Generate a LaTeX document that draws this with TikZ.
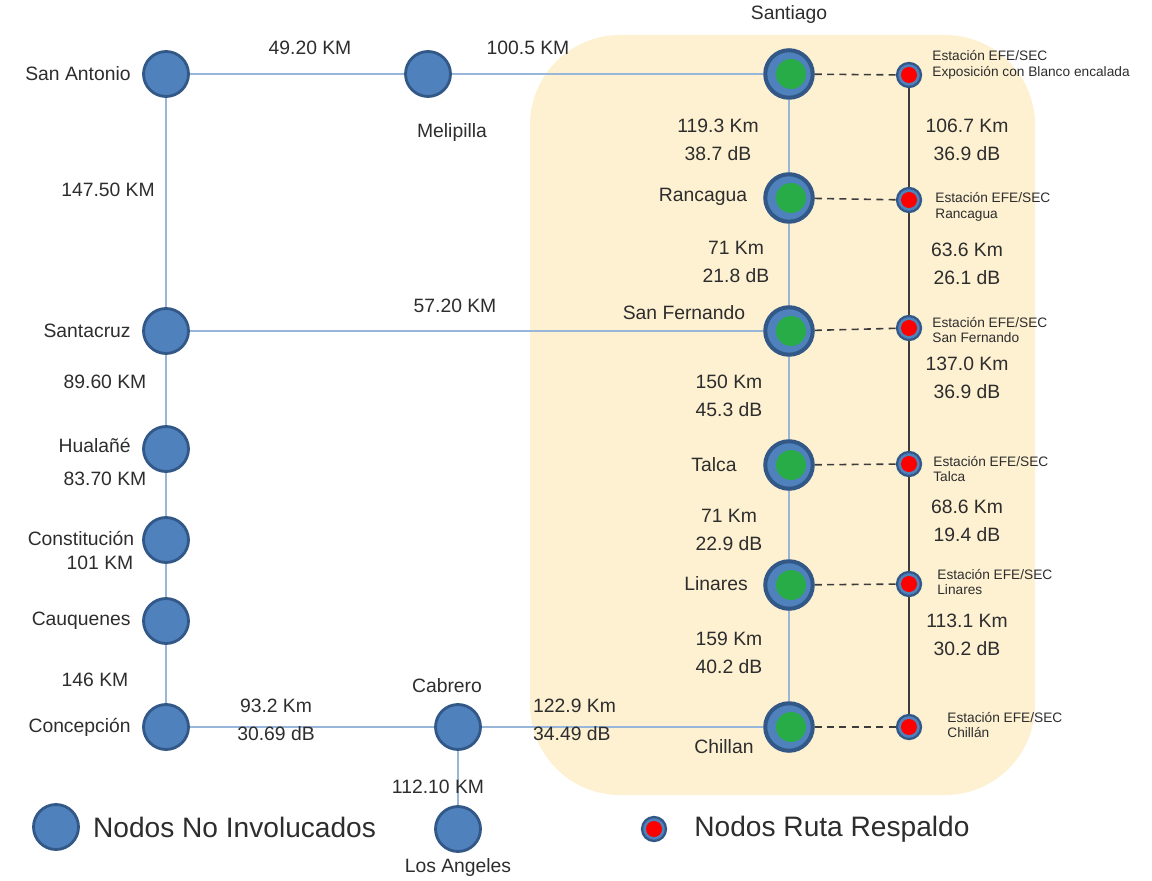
\documentclass[tikz,border=0pt]{standalone}
\usepackage{fontspec}
\setmainfont{Liberation Sans}
\usetikzlibrary{positioning}

\definecolor{lineaazul}{RGB}{152,182,218}
\definecolor{nodoazul}{RGB}{79,129,189}
\definecolor{bordeazul}{RGB}{50,88,135}
\definecolor{verderuta}{RGB}{40,172,72}
\definecolor{fondoruta}{RGB}{254,241,210}
\definecolor{textogris}{RGB}{45,45,45}
\definecolor{grisoscuro}{RGB}{60,60,60}

\begin{document}
\begin{tikzpicture}[
    x=0.02cm, y=-0.02cm,
    node distance=3pt,
    nodo/.style={circle, draw=bordeazul, line width=1.6pt, fill=nodoazul, minimum size=0.9cm, inner sep=0pt},
    nodoruta/.style={nodo, line width=2.3pt, minimum size=0.95cm,
        path picture={\fill[verderuta] ([xshift=0.4mm]path picture bounding box.center) circle (0.3cm);}},
    nodorespaldo/.style={nodo, line width=1.3pt, minimum size=0.48cm,
        path picture={\fill[red] (path picture bounding box.center) circle (0.16cm);}},
    ciudad/.style={font=\fontsize{11}{13}\selectfont, text=textogris},
    dist/.style={font=\fontsize{11}{16}\selectfont, text=textogris, align=center},
    estacion/.style={font=\fontsize{7.8}{9}\selectfont, text=textogris, align=left, anchor=west, inner sep=0pt},
    leyenda/.style={font=\fontsize{16}{18}\selectfont, text=textogris, anchor=west},
    tramo/.style={lineaazul, line width=1.6pt},
    respaldo/.style={grisoscuro, line width=1.2pt},
    enlace/.style={grisoscuro, line width=0.9pt, dash pattern=on 4pt off 3pt}]

    \useasboundingbox (0,0) rectangle (1152,881);

    % zona de la ruta
    \fill[fondoruta, rounded corners=1.8cm] (530,35) rectangle (1035,795);

    % nodos no involucrados
    \node[nodo] (sanantonio) at (166,74) {};
    \node[nodo] (melipilla) at (428,74) {};
    \node[nodo] (santacruz) at (166,331) {};
    \node[nodo] (hualane) at (166,449) {};
    \node[nodo] (constitucion) at (166,540) {};
    \node[nodo] (cauquenes) at (166,621) {};
    \node[nodo] (concepcion) at (166,727) {};
    \node[nodo] (cabrero) at (458,727) {};
    \node[nodo] (losangeles) at (458,829) {};

    % nodos de la ruta
    \node[nodoruta] (santiago) at (789,74) {};
    \node[nodoruta] (rancagua) at (789,198) {};
    \node[nodoruta] (sanfernando) at (789,331) {};
    \node[nodoruta] (talca) at (789,465) {};
    \node[nodoruta] (linares) at (789,585) {};
    \node[nodoruta] (chillan) at (789,727) {};

    % estaciones de respaldo
    \node[nodorespaldo] (efesantiago) at (909,75) {};
    \node[nodorespaldo] (eferancagua) at (909,200) {};
    \node[nodorespaldo] (efesanfernando) at (909,328) {};
    \node[nodorespaldo] (efetalca) at (909,464) {};
    \node[nodorespaldo] (efelinares) at (909,584) {};
    \node[nodorespaldo] (efechillan) at (909,727) {};

    % tramos
    \draw[tramo] (sanantonio) -- (melipilla);
    \draw[tramo] (melipilla) -- (santiago);
    \draw[tramo] (sanantonio) -- (santacruz);
    \draw[tramo] (santacruz) -- (hualane);
    \draw[tramo] (hualane) -- (constitucion);
    \draw[tramo] (constitucion) -- (cauquenes);
    \draw[tramo] (cauquenes) -- (concepcion);
    \draw[tramo] (santacruz) -- (sanfernando);
    \draw[tramo] (concepcion) -- (cabrero);
    \draw[tramo] (cabrero) -- (chillan);
    \draw[tramo] (cabrero) -- (losangeles);
    \draw[tramo] (santiago) -- (rancagua);
    \draw[tramo] (rancagua) -- (sanfernando);
    \draw[tramo] (sanfernando) -- (talca);
    \draw[tramo] (talca) -- (linares);
    \draw[tramo] (linares) -- (chillan);

    \draw[respaldo] (efesantiago) -- (eferancagua);
    \draw[respaldo] (eferancagua) -- (efesanfernando);
    \draw[respaldo] (efesanfernando) -- (efetalca);
    \draw[respaldo] (efetalca) -- (efelinares);
    \draw[respaldo] (efelinares) -- (efechillan);

    \draw[enlace] (santiago) -- (efesantiago);
    \draw[enlace] (rancagua) -- (eferancagua);
    \draw[enlace] (sanfernando) -- (efesanfernando);
    \draw[enlace] (talca) -- (efetalca);
    \draw[enlace] (linares) -- (efelinares);
    \draw[enlace] (chillan) -- (efechillan);

    % nombres
    \node[ciudad, left=3pt of sanantonio] {San Antonio};
    \node[ciudad, left=3pt of santacruz] {Santacruz};
    \node[ciudad, left=3pt of hualane, yshift=2pt] {Hualañé};
    \node[ciudad, left=1pt of constitucion, yshift=1pt] {Constitución};
    \node[ciudad, left=3pt of cauquenes] {Cauquenes};
    \node[ciudad, left=3pt of concepcion] {Concepción};
    \node[ciudad] at (452,133) {Melipilla};
    \node[ciudad] at (789,15) {Santiago};
    \node[ciudad] at (703,197) {Rancagua};
    \node[ciudad] at (684,313) {San Fernando};
    \node[ciudad] at (714,465) {Talca};
    \node[ciudad] at (716,584) {Linares};
    \node[ciudad] at (724,747) {Chillan};
    \node[ciudad] at (447,686) {Cabrero};
    \node[ciudad] at (458,867) {Los Angeles};

    % distancias
    \node[dist] at (310,48) {49.20 KM};
    \node[dist] at (528,48) {100.5 KM};
    \node[dist] at (108,190) {147.50 KM};
    \node[dist] at (455,306) {57.20 KM};
    \node[dist] at (105,382) {89.60 KM};
    \node[dist] at (105,479) {83.70 KM};
    \node[dist] at (100,563) {101 KM};
    \node[dist] at (95,680) {146 KM};
    \node[dist] at (438,787) {112.10 KM};
    \node[dist] at (276,720) {93.2 Km\\30.69 dB};
    \node[dist, align=left, anchor=west] at (527,720) {122.9 Km\\34.49 dB};

    \node[dist] at (718,140) {119.3 Km\\38.7 dB};
    \node[dist] at (736,262) {71 Km\\21.8 dB};
    \node[dist] at (729,396) {150 Km\\45.3 dB};
    \node[dist] at (729,530) {71 Km\\22.9 dB};
    \node[dist] at (729,653) {159 Km\\40.2 dB};

    \node[dist] at (967,140) {106.7 Km\\36.9 dB};
    \node[dist] at (967,264) {63.6 Km\\26.1 dB};
    \node[dist] at (967,378) {137.0 Km\\36.9 dB};
    \node[dist] at (967,521) {68.6 Km\\19.4 dB};
    \node[dist] at (967,635) {113.1 Km\\30.2 dB};

    % estaciones
    \node[estacion] at (932,65) {Estación EFE/SEC\\Exposición con Blanco encalada};
    \node[estacion] at (935,207) {Estación EFE/SEC\\Rancagua};
    \node[estacion] at (932,330) {Estación EFE/SEC\\San Fernando};
    \node[estacion] at (933,469) {Estación EFE/SEC\\Talca};
    \node[estacion] at (937,582) {Estación EFE/SEC\\Linares};
    \node[estacion] at (947,725) {Estación EFE/SEC\\Chillán};

    % leyenda
    \node[nodo] (leyendaazul) at (56,827) {};
    \node[leyenda, right=4pt of leyendaazul] {Nodos No Involucados};
    \node[nodorespaldo] (leyendaroja) at (654,829) {};
    \node[leyenda, right=12pt of leyendaroja] {Nodos Ruta Respaldo};

\end{tikzpicture}
\end{document}
